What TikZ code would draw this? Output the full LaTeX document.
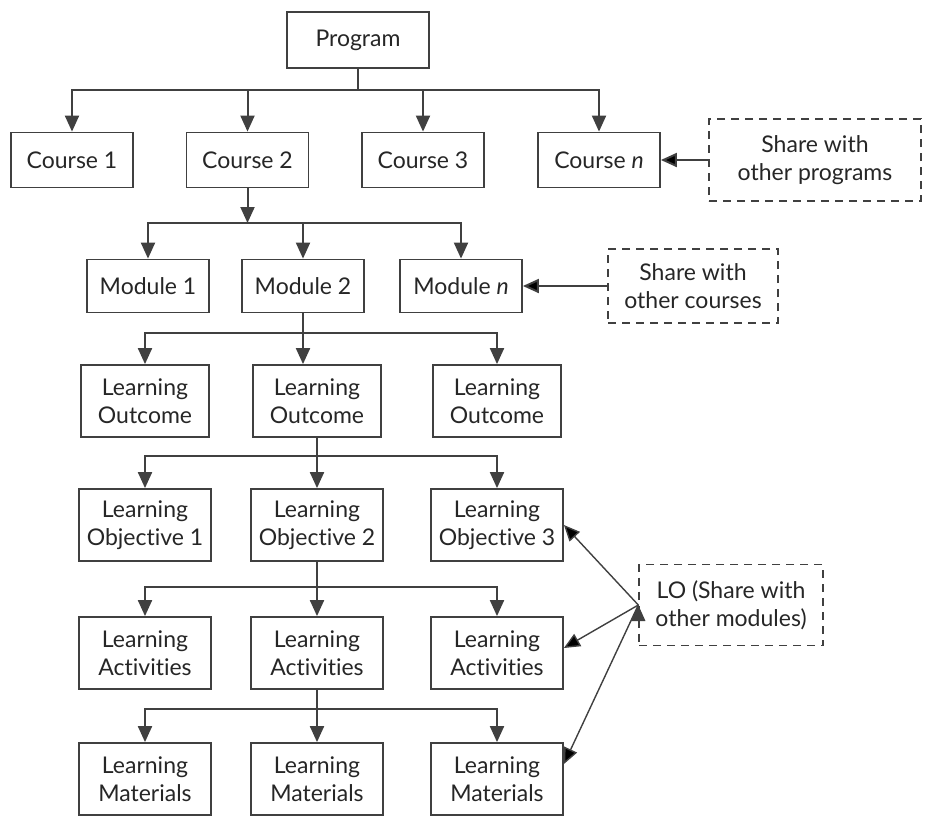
\documentclass[tikz,border=0pt]{standalone}
\usepackage{fontspec}
\setmainfont{Lato}[Ligatures=NoCommon]
\usetikzlibrary{arrows.meta}
\definecolor{ink}{RGB}{64,64,64}
\begin{document}
\begin{tikzpicture}[x=1pt,y=-1pt,>={Triangle[length=16pt,width=14pt]},
	every node/.style={font=\fontsize{23}{28}\selectfont,text=black!85}]
	\tikzstyle{block} = [rectangle,draw=ink,line width=1.8pt,align=center,minimum width=122pt,minimum height=55pt,inner sep=2pt]
	\tikzstyle{tall} = [block,minimum width=132pt,minimum height=72pt]
	\tikzstyle{share} = [block,dash pattern=on 8pt off 6pt,line width=1.4pt]
	\tikzstyle{link} = [draw=ink,line width=2pt]
	\tikzstyle{thinlink} = [draw=ink,line width=1.4pt]
	\useasboundingbox (0,0) rectangle (925,817);
	\node[block,minimum width=142pt,minimum height=56pt](program)at(358,40){Program};
	\node[block](course1)at(72,160){Course 1};
	\node[block](course2)at(247.5,160){Course 2};
	\node[block](course3)at(423,160){Course 3};
	\node[block](course-n)at(599,160){Course \textit{n}};
	\node[share,minimum width=212pt,minimum height=82pt](share-p)at(815,160){Share with\\other programs};
	\node[block,minimum height=53pt](module1)at(148,286){Module 1};
	\node[block,minimum height=53pt](module2)at(303,286){Module 2};
	\node[block,minimum height=53pt](module-n)at(461,286){Module \textit{n}};
	\node[share,minimum width=170pt,minimum height=74pt](share-c)at(693,286){Share with\\other courses};
	\node[tall,minimum width=128pt](outcome1)at(145,401){Learning\\Outcome};
	\node[tall,minimum width=128pt](outcome2)at(317,401){Learning\\Outcome};
	\node[tall,minimum width=128pt](outcome3)at(497,401){Learning\\Outcome};
	\node[tall](objective1)at(145,525){Learning\\Objective 1};
	\node[tall](objective2)at(317,525){Learning\\Objective 2};
	\node[tall](objective3)at(497,525){Learning\\Objective 3};
	\node[share,minimum width=184pt,minimum height=81pt](share-lo)at(731,605){LO (Share with\\other modules)};
	\node[tall](activity1)at(145,653){Learning\\Activities};
	\node[tall](activity2)at(317,653){Learning\\Activities};
	\node[tall](activity3)at(497,653){Learning\\Activities};
	\node[tall](material1)at(145,779){Learning\\Materials};
	\node[tall](material2)at(317,779){Learning\\Materials};
	\node[tall](material3)at(497,779){Learning\\Materials};
	% bus points
	\coordinate (bus1) at (358,90);
	\coordinate (bus2) at (247.5,223);
	\coordinate (bus3) at (303,333);
	\coordinate (bus4) at (317,456);
	\coordinate (bus5) at (317,587);
	\coordinate (bus6) at (317,709);
	\draw[link] (program) -- (bus1);
	\draw[link,->] (bus1) -| (course1);
	\draw[link,->] (bus1) -| (course2);
	\draw[link,->] (bus1) -| (course3);
	\draw[link,->] (bus1) -| (course-n);
	\draw[link,->] (course2) -- (bus2);
	\draw[link,->] (bus2) -| (module1);
	\draw[link,->] (bus2) -| (module2);
	\draw[link,->] (bus2) -| (module-n);
	\draw[link,->] (module2) -- (module2 |- outcome2.north);
	\draw[link,->] (bus3) -| (outcome1);
	\draw[link,->] (bus3) -| (outcome3);
	\draw[link,->] (outcome2) -- (objective2);
	\draw[link,->] (bus4) -| (objective1);
	\draw[link,->] (bus4) -| (objective3);
	\draw[link,->] (objective2) -- (activity2);
	\draw[link,->] (bus5) -| (activity1);
	\draw[link,->] (bus5) -| (activity3);
	\draw[link,->] (activity2) -- (material2);
	\draw[link,->] (bus6) -| (material1);
	\draw[link,->] (bus6) -| (material3);
	% sharing
	\path[link,->] (share-p) edge (course-n)
	(share-c) edge (module-n);
	\path[thinlink,->] (share-lo.west) edge (objective3.east)
	(share-lo.west) edge ([yshift=5pt]activity3.east)
	(share-lo.west) edge ([yshift=15pt]material3.east);
\end{tikzpicture}
\end{document}
